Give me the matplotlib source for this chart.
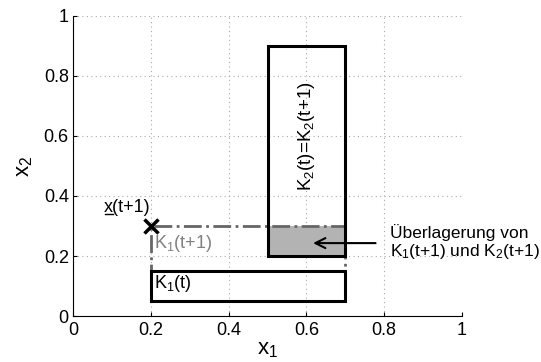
import matplotlib
matplotlib.use("Agg")
import matplotlib.pyplot as plt
from matplotlib.patches import Rectangle

plt.rcParams['font.family'] = ['Liberation Sans', 'DejaVu Sans']
plt.rcParams['mathtext.fontset'] = 'custom'
plt.rcParams['mathtext.rm'] = 'Liberation Sans'
plt.rcParams['mathtext.it'] = 'Liberation Sans'
plt.rcParams['mathtext.default'] = 'regular'

# data
k1_t = (0.2, 0.7, 0.05, 0.15)        # x0, x1, y0, y1
k2_t = (0.5, 0.7, 0.2, 0.9)
k1_t1 = (0.2, 0.7, 0.15, 0.3)
overlap = (0.5, 0.7, 0.2, 0.3)
point_x = [0.2]
point_y = [0.3]
ticks = [0, 0.2, 0.4, 0.6, 0.8, 1]
tick_labels = ['0', '0.2', '0.4', '0.6', '0.8', '1']

fig = plt.figure(figsize=(5.41, 3.62), dpi=100)
ax = fig.add_axes([0.135, 0.127, 0.719, 0.829])
ax.set_xlim(0, 1)
ax.set_ylim(0, 1)
ax.set_xticks(ticks)
ax.set_xticklabels(tick_labels)
ax.set_yticks(ticks)
ax.set_yticklabels(tick_labels)
ax.tick_params(direction='in', labelsize=13, length=3)
ax.tick_params(axis='y', pad=3)
ax.tick_params(axis='x', pad=4)
ax.grid(True, linestyle=(0, (1, 3)), color='#aaaaaa', linewidth=0.8)
for s in ['top', 'right']:
    ax.spines[s].set_visible(False)

def rect(r, **kw):
    return Rectangle((r[0], r[2]), r[1] - r[0], r[3] - r[2], **kw)

ax.add_patch(rect(overlap, facecolor='#b3b3b3', edgecolor='none', zorder=2))
ax.add_patch(rect(k1_t1, facecolor='none', edgecolor='#666666', linestyle='-.', linewidth=2, zorder=3))
ax.add_patch(rect(k1_t, facecolor='none', edgecolor='black', linewidth=2.2, zorder=4))
ax.add_patch(rect(k2_t, facecolor='none', edgecolor='black', linewidth=2.2, zorder=4))
ax.plot(point_x, point_y, marker='x', color='black', markersize=10, markeredgewidth=2.5, zorder=5, clip_on=False)

lbl = ax.text(0.08, 0.363, 'x(t+1)', fontsize=13, ha='left', va='center')
ax.text(0.208, 0.243, 'K$_1$(t+1)', fontsize=13, color='#808080', ha='left', va='center')
ax.text(0.208, 0.11, 'K$_1$(t)', fontsize=13, ha='left', va='center')
ax.text(0.6, 0.6, 'K$_2$(t)=K$_2$(t+1)', fontsize=13.5, rotation=90, ha='center', va='center')

# underline the "x" of x(t+1)
fig.canvas.draw()
r = fig.canvas.get_renderer()
probe = ax.text(0.08, 0.363, 'x', fontsize=13, ha='left', va='center', alpha=0)
bb_full = lbl.get_window_extent(r)
bb_x = probe.get_window_extent(r)
inv = ax.transData.inverted()
(x0, y0) = inv.transform((bb_x.x0 + 0.5, bb_full.y0 + 1.5))
(x1, _) = inv.transform((bb_x.x1 - 0.5, bb_full.y0 + 1.5))
probe.remove()
ax.plot([x0, x1], [y0, y0], color='black', linewidth=1.0, zorder=5)

ax.annotate('', xy=(0.61, 0.243), xytext=(0.785, 0.243),
            arrowprops=dict(arrowstyle='->', color='black', lw=1.5, mutation_scale=18), zorder=6)
ax.text(0.815, 0.245, '\u00dcberlagerung von\nK$_1$(t+1) und K$_2$(t+1)', fontsize=12.5,
        ha='left', va='center', linespacing=1.05, clip_on=False)

ax.set_xlabel('x$_1$', fontsize=16, labelpad=0)
ax.set_ylabel('x$_2$', fontsize=16, labelpad=6)

fig.savefig('out.png', dpi=100)
